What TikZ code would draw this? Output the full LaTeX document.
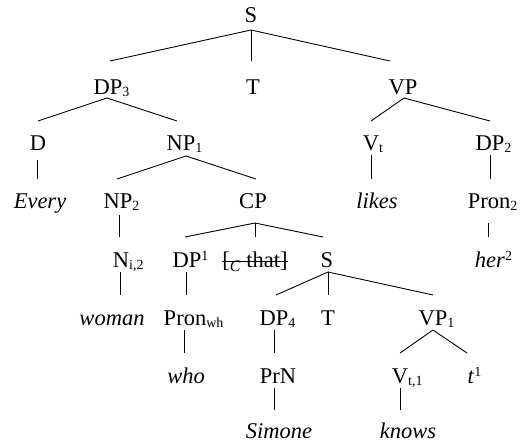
\documentclass[tikz,border=0pt]{standalone}
\usepackage{fontspec}
\setmainfont{Liberation Serif}
% small lowered / raised indices that take no width, so each node centres on its main label
\newcommand\lo[1]{\rlap{\raisebox{-2pt}{\fontsize{14}{14}\selectfont #1}}}
\newcommand\hi[1]{\rlap{\raisebox{7pt}{\fontsize{14}{14}\selectfont #1}}}
\tikzset{
  lab/.style={inner sep=0pt, anchor=base, font=\fontsize{22.5}{27}\selectfont},
  twig/.style={line width=0.9pt}
}
\begin{document}
\begin{tikzpicture}[x=1pt,y=-1pt]
\useasboundingbox (0,0) rectangle (529,445);

% row 1
\node[lab] (S)      at (251,22)  {S};
% row 2
\node[lab] (DP3)    at (108,94)  {DP\lo{3}};
\node[lab] (T2)     at (253,94)  {T};
\node[lab] (VP)     at (403,94)  {VP};
% row 3
\node[lab] (D)      at (38,150)  {D};
\node[lab] (NP1)    at (181,150) {NP\lo{1}};
\node[lab] (Vt)     at (371,150) {V\lo{t}};
\node[lab] (DP2)    at (490,150) {DP\lo{2}};
% row 4
\node[lab] (Every)  at (40,208)  {\itshape Every};
\node[lab] (NP2)    at (118,208) {NP\lo{2}};
\node[lab] (CP)     at (253,208) {CP};
\node[lab] (likes)  at (377,208) {\itshape likes};
\node[lab] (Pron2)  at (489,208) {Pron\lo{2}};
% row 5
\node[lab] (Ni)     at (121,267) {N\lo{i,2}};
\node[lab] (DP1)    at (187,267) {DP\hi{1}};
\node[lab] (comp)   at (255,267) {[\raisebox{-4pt}{\fontsize{16}{16}\selectfont\itshape C} that]};
\node[lab] (S2)     at (327,267) {S};
\node[lab] (her)    at (490,267) {\textit{her}\hi{2}};
% row 6
\node[lab] (woman)  at (112,325) {\itshape woman};
\node[lab] (Pronwh) at (185,325) {Pron\lo{wh}};
\node[lab] (DP4)    at (274,325) {DP\lo{4}};
\node[lab] (T6)     at (328,325) {T};
\node[lab] (VP1)    at (433,325) {VP\lo{1}};
% row 7
\node[lab] (who)    at (186,383) {\itshape who};
\node[lab] (PrN)    at (278,383) {PrN};
\node[lab] (Vt1)    at (400,383) {V\lo{t,1}};
\node[lab] (trace)  at (471,383) {\textit{t}\hi{1}};
% row 8
\node[lab] (Simone) at (279,438) {\itshape Simone};
\node[lab] (knows)  at (408,438) {\itshape knows};

% deleted complementizer
\draw[twig] ([shift={(0,-6)}]comp.base west) -- ([shift={(0,-6)}]comp.base east);

% branches
\draw[twig] ([shift={(0,8)}]S.base) -- ([shift={(2,-33)}]DP3.base);
\draw[twig] ([shift={(0,8)}]S.base) -- ([shift={(-2,-33)}]T2.base);
\draw[twig] ([shift={(0,8)}]S.base) -- ([shift={(-13,-33)}]VP.base);

\draw[twig] ([shift={(-1,4)}]DP3.base) -- ([shift={(0,-29)}]D.base);
\draw[twig] ([shift={(-1,4)}]DP3.base) -- ([shift={(-4,-29)}]NP1.base);
\draw[twig] ([shift={(1,4)}]VP.base) -- ([shift={(0,-29)}]Vt.base);
\draw[twig] ([shift={(1,4)}]VP.base) -- ([shift={(0,-29)}]DP2.base);

\draw[twig] ([shift={(-1,10)}]D.base) -- ([shift={(-3,-29)}]Every.base);
\draw[twig] ([shift={(5,6)}]NP1.base) -- ([shift={(-1,-29)}]NP2.base);
\draw[twig] ([shift={(5,6)}]NP1.base) -- ([shift={(3,-29)}]CP.base);
\draw[twig] ([shift={(0,5)}]Vt.base) -- ([shift={(-6,-29)}]likes.base);
\draw[twig] ([shift={(0,5)}]DP2.base) -- ([shift={(1,-29)}]Pron2.base);

\draw[twig] ([shift={(1,7)}]NP2.base) -- ([shift={(-2,-30)}]Ni.base);
\draw[twig] ([shift={(2,15)}]CP.base) -- ([shift={(-2,-30)}]DP1.base);
\draw[twig] ([shift={(2,15)}]CP.base) -- ([shift={(0,-30)}]comp.base);
\draw[twig] ([shift={(2,15)}]CP.base) -- ([shift={(-4,-30)}]S2.base);
\draw[twig] ([shift={(-1,15)}]Pron2.base) -- ([shift={(-2,-30)}]her.base);

\draw[twig] ([shift={(-1,5)}]Ni.base) -- ([shift={(8,-30)}]woman.base);
\draw[twig] ([shift={(-1,5)}]DP1.base) -- ([shift={(1,-30)}]Pronwh.base);
\draw[twig] ([shift={(1,5)}]S2.base) -- ([shift={(2,-30)}]DP4.base);
\draw[twig] ([shift={(1,5)}]S2.base) -- ([shift={(0,-30)}]T6.base);
\draw[twig] ([shift={(1,5)}]S2.base) -- ([shift={(0,-30)}]VP1.base);

\draw[twig] ([shift={(-1,5)}]Pronwh.base) -- ([shift={(-2,-30)}]who.base);
\draw[twig] ([shift={(0,5)}]DP4.base) -- ([shift={(-4,-30)}]PrN.base);
\draw[twig] ([shift={(0,5)}]VP1.base) -- ([shift={(0,-30)}]Vt1.base);
\draw[twig] ([shift={(0,5)}]VP1.base) -- ([shift={(-4,-30)}]trace.base);

\draw[twig] ([shift={(-4,5)}]PrN.base) -- ([shift={(-5,-28)}]Simone.base);
\draw[twig] ([shift={(0,5)}]Vt1.base) -- ([shift={(-8,-28)}]knows.base);
\end{tikzpicture}
\end{document}
